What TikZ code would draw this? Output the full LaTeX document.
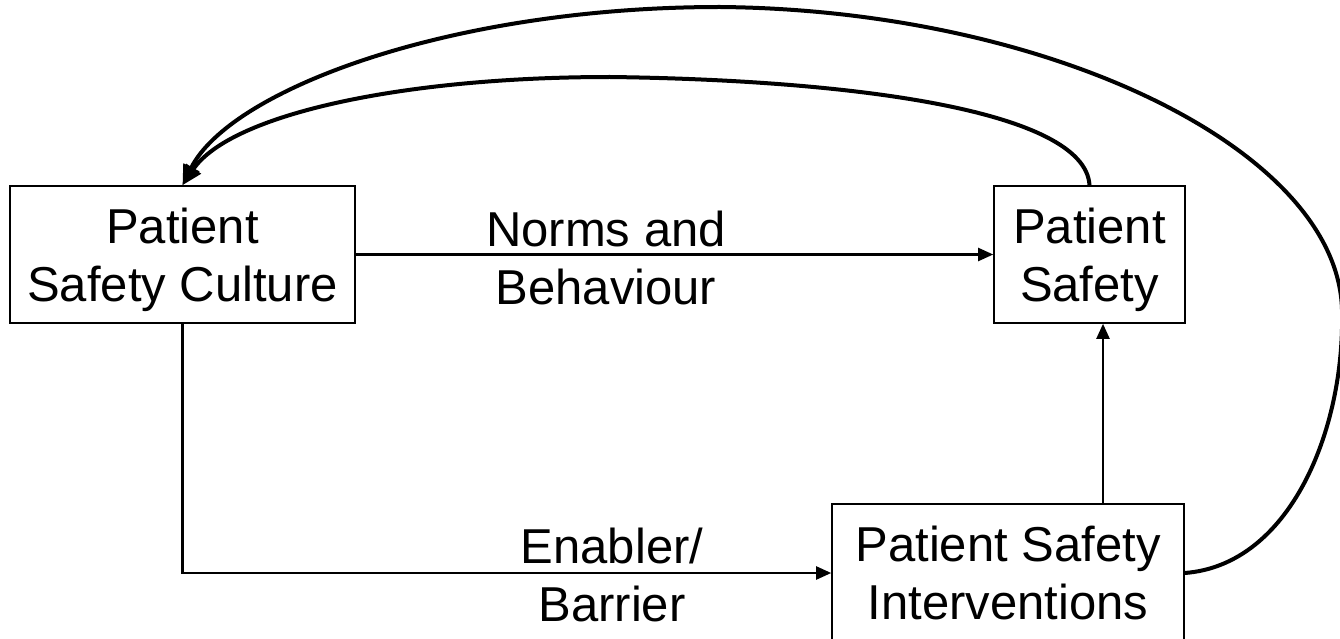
\documentclass[tikz,border=0pt]{standalone}
\usepackage{fontspec}
\setmainfont{Liberation Sans}
\usetikzlibrary{arrows.meta,calc}
\newcommand\lowtext[2]{\raisebox{-#1}[\height][\depth]{\begin{tabular}{@{}c@{}}#2\end{tabular}}}
\begin{document}
\begin{tikzpicture}[x=1pt,y=-1pt,
  box/.style={draw,line width=1.6pt,align=center,inner sep=0pt,font=\fontsize{49}{58}\selectfont},
  lbl/.style={align=center,inner sep=0pt,font=\fontsize{49}{58}\selectfont},
  conn/.style={line width=2.2pt,-{Triangle[length=15pt,width=13pt]}},
  loopline/.style={line width=4pt,-{Triangle[length=20pt,width=17pt]}}]
\useasboundingbox (0,0) rectangle (1340,639);
\clip (0,0) rectangle (1340,639);
\node[box,minimum width=345pt,minimum height=137pt] (psc) at (182.5,254.5) {\lowtext{6pt}{Patient\\Safety Culture}};
\node[box,minimum width=191pt,minimum height=137pt] (ps) at (1089.5,254.5) {\lowtext{6pt}{Patient\\Safety}};
\node[box,minimum width=352pt,minimum height=138pt] (psi) at (1008,573) {Patient Safety\\Interventions};
\node[lbl] (nb) at (606,258) {Norms and\\Behaviour};
\node[lbl] (eb) at (612,575) {Enabler/\\Barrier};
\coordinate (upx) at (1103,0);
\draw[conn] (psc.east) -- (ps.west);
\draw[conn] (psc.south) |- (psi.west);
\draw[conn] (psi.north -| upx) -- (ps.south -| upx);
\draw[loopline] (ps.north) .. controls (1085,110) and (850,80) .. (610,77) .. controls (400,77) and (230,115) .. (psc.north);
\draw[loopline] (psi.east) .. controls (1290,565) and (1345,430) .. (1342,310) .. controls (1338,150) and (1050,10) .. (720,7) .. controls (450,7) and (230,90) .. (psc.north);
\end{tikzpicture}
\end{document}
